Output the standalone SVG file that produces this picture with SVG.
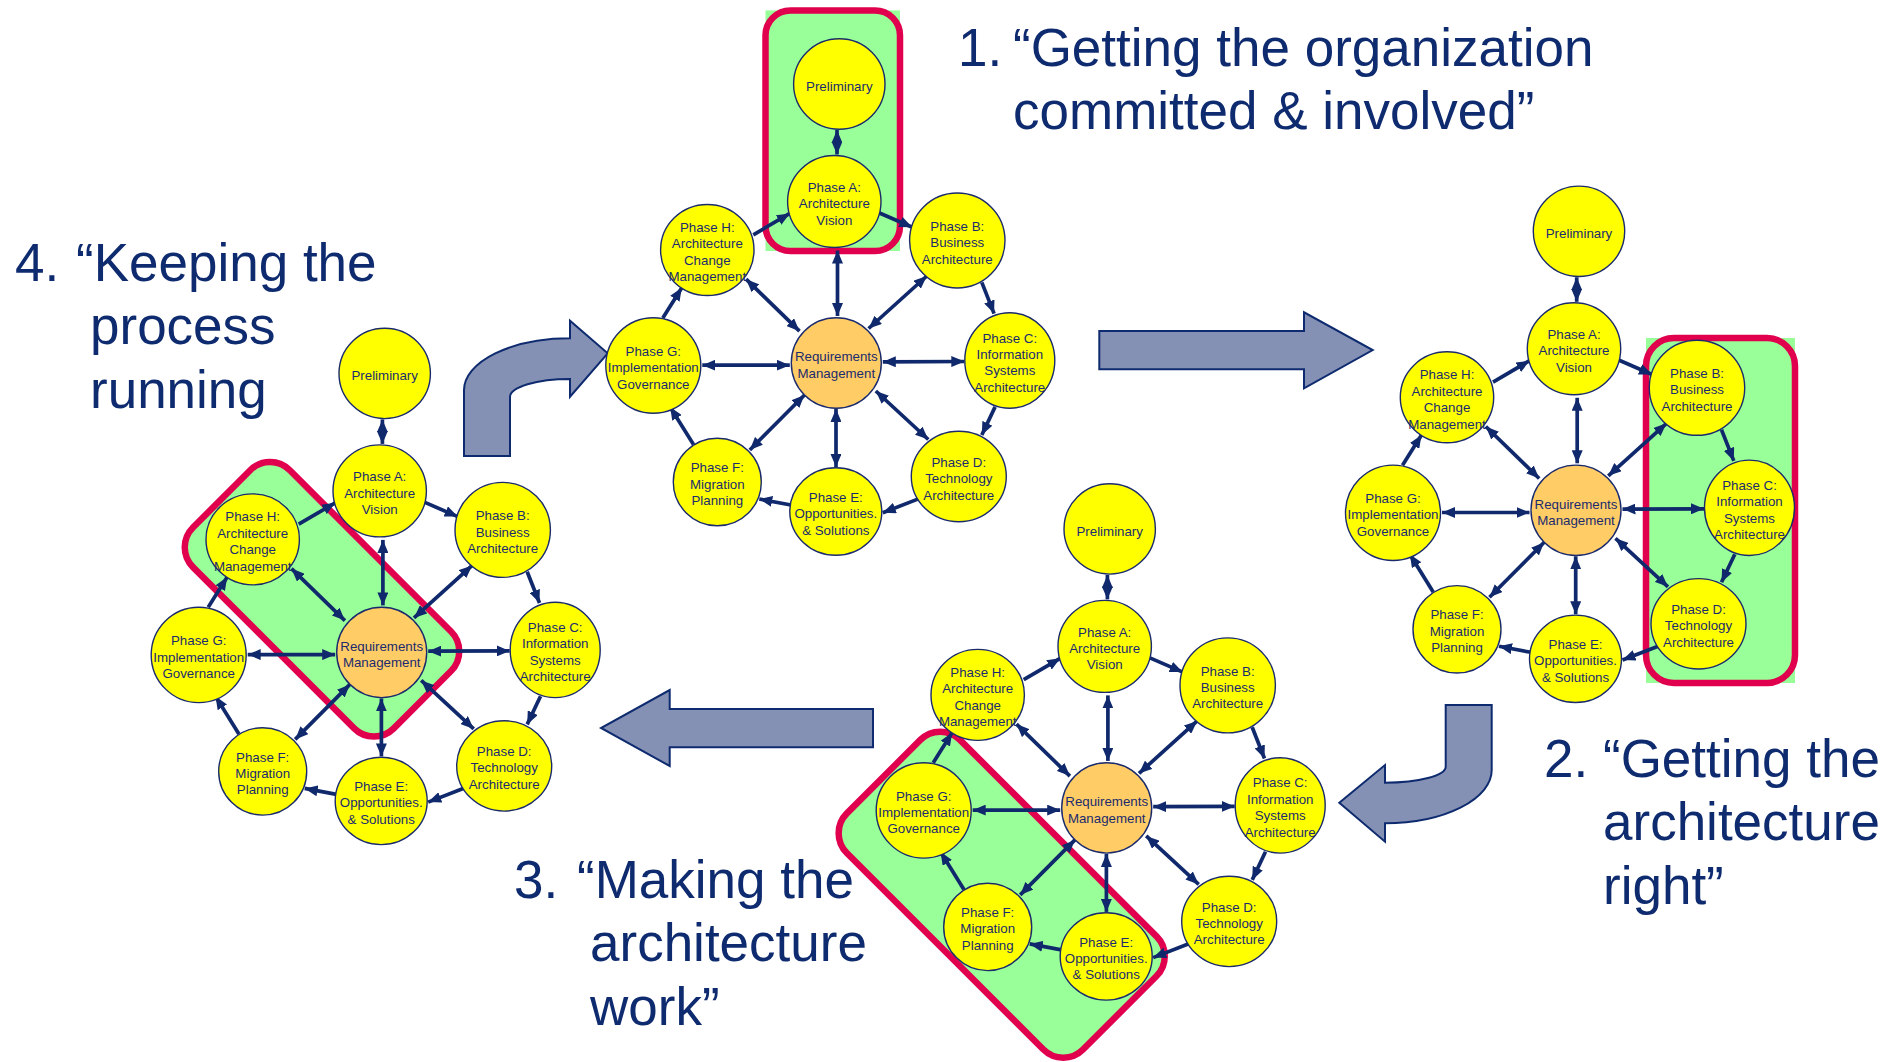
<svg xmlns="http://www.w3.org/2000/svg" width="1901" height="1062" viewBox="0 0 1901 1062">
<defs>
<style>
.n{fill:#FFFF00;stroke:#1A2A6C;stroke-width:1.4}
.rq{fill:#FFCC66;stroke:#1A2A6C;stroke-width:1.4}
.nt{font-family:"Liberation Sans",Arial,sans-serif;font-size:13.3px;fill:#1B2B6D;text-anchor:middle}
.c{stroke:#10296C;stroke-width:3.7;fill:none}
.d{marker-start:url(#ah);marker-end:url(#ah)}
.s{marker-end:url(#ah)}
.tt{font-family:"Liberation Sans",Arial,sans-serif;font-size:53px;fill:#0F2B6F}
.big{fill:#8491B4;stroke:#0F2B6F;stroke-width:2;stroke-linejoin:miter}
.hl{fill:#99FF99}
.hb{fill:none;stroke:#E1004E;stroke-width:6.5}
.hr{fill:#99FF99;stroke:#E1004E;stroke-width:6.5}
</style>
<marker id="ah" viewBox="0 0 13 11" refX="13" refY="5.5" markerWidth="13" markerHeight="11" markerUnits="userSpaceOnUse" orient="auto-start-reverse"><path d="M0,0 L13,5.5 L0,11 z" fill="#10296C"/></marker>
</defs>
<rect width="1901" height="1062" fill="#FFFFFF"/>

<g id="flow-arrows">
<path class="big" d="M464,456 L464,390 A106,52 0 0 1 570,338.3 L570,320.7 L607.7,353.3 L570,396.7 L570,379 A60,18 0 0 0 510,397 L510,456 Z"/>
<path class="big" d="M1099.3,331 L1304,331 L1304,312.3 L1372.7,350 L1304,388.3 L1304,369.3 L1099.3,369.3 Z"/>
<path class="big" d="M1445.7,705 L1491.7,705 L1491.7,770 A106.7,53.3 0 0 1 1385,823.3 L1385,841.7 L1339.3,802.7 L1385,765 L1385,782.7 A60.7,16 0 0 0 1445.7,766.7 Z"/>
<path class="big" d="M873,709 L669.7,709 L669.7,690 L601,728 L669.7,766 L669.7,747.3 L873,747.3 Z"/>
</g>

<g id="titles">
<text class="tt" x="958" y="66">1.</text>
<text class="tt" x="1013" y="66">“Getting the organization</text>
<text class="tt" x="1013" y="129.3">committed &amp; involved”</text>
<text class="tt" x="1544" y="777">2.</text>
<text class="tt" x="1603" y="777">“Getting the</text>
<text class="tt" x="1603" y="840.3">architecture</text>
<text class="tt" x="1603" y="903.6">right”</text>
<text class="tt" x="514" y="898">3.</text>
<text class="tt" x="577" y="898">“Making the</text>
<text class="tt" x="590" y="961.3">architecture</text>
<text class="tt" x="590" y="1024.6">work”</text>
<text class="tt" x="15" y="281">4.</text>
<text class="tt" x="76" y="281">“Keeping the</text>
<text class="tt" x="90" y="344.3">process</text>
<text class="tt" x="90" y="407.6">running</text>
</g>

<!-- Diagram 1 -->
<g id="d1" transform="translate(836.3,363)">
<g id="d1-focus"><rect class="hl" x="-70.8" y="-352.6" width="134.5" height="240.6"/><rect class="hb" x="-70.8" y="-352.6" width="134.5" height="240.6" rx="25"/></g>
<g id="d1-connectors">
<line class="c d" x1="0.7" y1="-233" x2="0.7" y2="-208.5"/>
<line class="c d" x1="1.2" y1="-47" x2="1.2" y2="-112.5"/>
<line class="c d" x1="32.3" y1="-34.5" x2="90.5" y2="-87"/>
<line class="c d" x1="46.5" y1="-1.2" x2="128" y2="-1.5"/>
<line class="c d" x1="39.5" y1="28" x2="92" y2="76.5"/>
<line class="c d" x1="-0.3" y1="46" x2="-0.3" y2="104"/>
<line class="c d" x1="-31.8" y1="32" x2="-86.5" y2="87"/>
<line class="c d" x1="-46.5" y1="2.2" x2="-134" y2="2.2"/>
<line class="c d" x1="-36.8" y1="-31.8" x2="-90.2" y2="-83.8"/>
<line class="c s" x1="-83" y1="-128.2" x2="-46.5" y2="-149.6"/>
<line class="c s" x1="43.2" y1="-150" x2="76" y2="-135.8"/>
<line class="c s" x1="145.5" y1="-80.6" x2="157.8" y2="-49.4"/>
<line class="c s" x1="158.8" y1="43.9" x2="145.5" y2="72"/>
<line class="c s" x1="82.1" y1="135.9" x2="46.5" y2="149.7"/>
<line class="c s" x1="-45.3" y1="142" x2="-77" y2="136"/>
<line class="c s" x1="-142.8" y1="81.6" x2="-166.2" y2="43.9"/>
<line class="c s" x1="-173.5" y1="-45.1" x2="-154.5" y2="-75.3"/>
</g>
<g id="d1-prelim"><ellipse class="n" cx="3" cy="-279" rx="45.7" ry="45.2"/><text class="nt" x="3" y="-272.4">Preliminary</text></g>
<g id="d1-phase-a"><ellipse class="n" cx="-2" cy="-161.5" rx="46.7" ry="46"/><text class="nt"><tspan x="-2" y="-171.3">Phase A:</tspan><tspan x="-2" y="-154.9">Architecture</tspan><tspan x="-2" y="-138.5">Vision</tspan></text></g>
<g id="d1-phase-b"><ellipse class="n" cx="121" cy="-122.5" rx="47.7" ry="47.5"/><text class="nt"><tspan x="121" y="-132.3">Phase B:</tspan><tspan x="121" y="-115.9">Business</tspan><tspan x="121" y="-99.5">Architecture</tspan></text></g>
<g id="d1-phase-c"><ellipse class="n" cx="173.5" cy="-2.5" rx="45" ry="47.7"/><text class="nt"><tspan x="173.5" y="-20.5">Phase C:</tspan><tspan x="173.5" y="-4.1">Information</tspan><tspan x="173.5" y="12.3">Systems</tspan><tspan x="173.5" y="28.7">Architecture</tspan></text></g>
<g id="d1-phase-d"><ellipse class="n" cx="122.5" cy="113.5" rx="47.5" ry="45.2"/><text class="nt"><tspan x="122.5" y="103.7">Phase D:</tspan><tspan x="122.5" y="120.1">Technology</tspan><tspan x="122.5" y="136.5">Architecture</tspan></text></g>
<g id="d1-phase-e"><ellipse class="n" cx="-0.5" cy="148.5" rx="46" ry="43.7"/><text class="nt"><tspan x="-0.5" y="138.7">Phase E:</tspan><tspan x="-0.5" y="155.1">Opportunities.</tspan><tspan x="-0.5" y="171.5">&amp; Solutions</tspan></text></g>
<g id="d1-phase-f"><ellipse class="n" cx="-119" cy="119" rx="44" ry="43.7"/><text class="nt"><tspan x="-119" y="109.2">Phase F:</tspan><tspan x="-119" y="125.6">Migration</tspan><tspan x="-119" y="142">Planning</tspan></text></g>
<g id="d1-phase-g"><ellipse class="n" cx="-183" cy="2.5" rx="47.5" ry="47.7"/><text class="nt"><tspan x="-183" y="-7.3">Phase G:</tspan><tspan x="-183" y="9.1">Implementation</tspan><tspan x="-183" y="25.5">Governance</tspan></text></g>
<g id="d1-phase-h"><ellipse class="n" cx="-129" cy="-113" rx="46.7" ry="45.5"/><text class="nt"><tspan x="-129" y="-131">Phase H:</tspan><tspan x="-129" y="-114.6">Architecture</tspan><tspan x="-129" y="-98.2">Change</tspan><tspan x="-129" y="-81.8">Management</tspan></text></g>
<g id="d1-requirements"><ellipse class="rq" cx="0" cy="0" rx="45" ry="45.2"/><text class="nt"><tspan x="0" y="-1.6">Requirements</tspan><tspan x="0" y="14.8">Management</tspan></text></g>
</g>

<!-- Diagram 2 -->
<g id="d2" transform="translate(1576,510.3)">
<g id="d2-focus"><rect class="hl" x="70" y="-172.3" width="149" height="345"/><rect class="hb" x="70" y="-172.3" width="149" height="345" rx="28"/></g>
<g id="d2-connectors">
<line class="c d" x1="0.7" y1="-233" x2="0.7" y2="-208.5"/>
<line class="c d" x1="1.2" y1="-47" x2="1.2" y2="-112.5"/>
<line class="c d" x1="32.3" y1="-34.5" x2="90.5" y2="-87"/>
<line class="c d" x1="46.5" y1="-1.2" x2="128" y2="-1.5"/>
<line class="c d" x1="39.5" y1="28" x2="92" y2="76.5"/>
<line class="c d" x1="-0.3" y1="46" x2="-0.3" y2="104"/>
<line class="c d" x1="-31.8" y1="32" x2="-86.5" y2="87"/>
<line class="c d" x1="-46.5" y1="2.2" x2="-134" y2="2.2"/>
<line class="c d" x1="-36.8" y1="-31.8" x2="-90.2" y2="-83.8"/>
<line class="c s" x1="-83" y1="-128.2" x2="-46.5" y2="-149.6"/>
<line class="c s" x1="43.2" y1="-150" x2="76" y2="-135.8"/>
<line class="c s" x1="145.5" y1="-80.6" x2="157.8" y2="-49.4"/>
<line class="c s" x1="158.8" y1="43.9" x2="145.5" y2="72"/>
<line class="c s" x1="82.1" y1="135.9" x2="46.5" y2="149.7"/>
<line class="c s" x1="-45.3" y1="142" x2="-77" y2="136"/>
<line class="c s" x1="-142.8" y1="81.6" x2="-166.2" y2="43.9"/>
<line class="c s" x1="-173.5" y1="-45.1" x2="-154.5" y2="-75.3"/>
</g>
<g id="d2-prelim"><ellipse class="n" cx="3" cy="-279" rx="45.7" ry="45.2"/><text class="nt" x="3" y="-272.4">Preliminary</text></g>
<g id="d2-phase-a"><ellipse class="n" cx="-2" cy="-161.5" rx="46.7" ry="46"/><text class="nt"><tspan x="-2" y="-171.3">Phase A:</tspan><tspan x="-2" y="-154.9">Architecture</tspan><tspan x="-2" y="-138.5">Vision</tspan></text></g>
<g id="d2-phase-b"><ellipse class="n" cx="121" cy="-122.5" rx="47.7" ry="47.5"/><text class="nt"><tspan x="121" y="-132.3">Phase B:</tspan><tspan x="121" y="-115.9">Business</tspan><tspan x="121" y="-99.5">Architecture</tspan></text></g>
<g id="d2-phase-c"><ellipse class="n" cx="173.5" cy="-2.5" rx="45" ry="47.7"/><text class="nt"><tspan x="173.5" y="-20.5">Phase C:</tspan><tspan x="173.5" y="-4.1">Information</tspan><tspan x="173.5" y="12.3">Systems</tspan><tspan x="173.5" y="28.7">Architecture</tspan></text></g>
<g id="d2-phase-d"><ellipse class="n" cx="122.5" cy="113.5" rx="47.5" ry="45.2"/><text class="nt"><tspan x="122.5" y="103.7">Phase D:</tspan><tspan x="122.5" y="120.1">Technology</tspan><tspan x="122.5" y="136.5">Architecture</tspan></text></g>
<g id="d2-phase-e"><ellipse class="n" cx="-0.5" cy="148.5" rx="46" ry="43.7"/><text class="nt"><tspan x="-0.5" y="138.7">Phase E:</tspan><tspan x="-0.5" y="155.1">Opportunities.</tspan><tspan x="-0.5" y="171.5">&amp; Solutions</tspan></text></g>
<g id="d2-phase-f"><ellipse class="n" cx="-119" cy="119" rx="44" ry="43.7"/><text class="nt"><tspan x="-119" y="109.2">Phase F:</tspan><tspan x="-119" y="125.6">Migration</tspan><tspan x="-119" y="142">Planning</tspan></text></g>
<g id="d2-phase-g"><ellipse class="n" cx="-183" cy="2.5" rx="47.5" ry="47.7"/><text class="nt"><tspan x="-183" y="-7.3">Phase G:</tspan><tspan x="-183" y="9.1">Implementation</tspan><tspan x="-183" y="25.5">Governance</tspan></text></g>
<g id="d2-phase-h"><ellipse class="n" cx="-129" cy="-113" rx="46.7" ry="45.5"/><text class="nt"><tspan x="-129" y="-131">Phase H:</tspan><tspan x="-129" y="-114.6">Architecture</tspan><tspan x="-129" y="-98.2">Change</tspan><tspan x="-129" y="-81.8">Management</tspan></text></g>
<g id="d2-requirements"><ellipse class="rq" cx="0" cy="0" rx="45" ry="45.2"/><text class="nt"><tspan x="0" y="-1.6">Requirements</tspan><tspan x="0" y="14.8">Management</tspan></text></g>
</g>

<!-- Diagram 3 -->
<g id="d3" transform="translate(1106.7,807.9)">
<g id="d3-focus"><rect class="hr" x="-272" y="6.8" width="334" height="160" rx="28" transform="rotate(45,-105,86.8)"/></g>
<g id="d3-connectors">
<line class="c d" x1="0.7" y1="-233" x2="0.7" y2="-208.5"/>
<line class="c d" x1="1.2" y1="-47" x2="1.2" y2="-112.5"/>
<line class="c d" x1="32.3" y1="-34.5" x2="90.5" y2="-87"/>
<line class="c d" x1="46.5" y1="-1.2" x2="128" y2="-1.5"/>
<line class="c d" x1="39.5" y1="28" x2="92" y2="76.5"/>
<line class="c d" x1="-0.3" y1="46" x2="-0.3" y2="104"/>
<line class="c d" x1="-31.8" y1="32" x2="-86.5" y2="87"/>
<line class="c d" x1="-46.5" y1="2.2" x2="-134" y2="2.2"/>
<line class="c d" x1="-36.8" y1="-31.8" x2="-90.2" y2="-83.8"/>
<line class="c s" x1="-83" y1="-128.2" x2="-46.5" y2="-149.6"/>
<line class="c s" x1="43.2" y1="-150" x2="76" y2="-135.8"/>
<line class="c s" x1="145.5" y1="-80.6" x2="157.8" y2="-49.4"/>
<line class="c s" x1="158.8" y1="43.9" x2="145.5" y2="72"/>
<line class="c s" x1="82.1" y1="135.9" x2="46.5" y2="149.7"/>
<line class="c s" x1="-45.3" y1="142" x2="-77" y2="136"/>
<line class="c s" x1="-142.8" y1="81.6" x2="-166.2" y2="43.9"/>
<line class="c s" x1="-173.5" y1="-45.1" x2="-154.5" y2="-75.3"/>
</g>
<g id="d3-prelim"><ellipse class="n" cx="3" cy="-279" rx="45.7" ry="45.2"/><text class="nt" x="3" y="-272.4">Preliminary</text></g>
<g id="d3-phase-a"><ellipse class="n" cx="-2" cy="-161.5" rx="46.7" ry="46"/><text class="nt"><tspan x="-2" y="-171.3">Phase A:</tspan><tspan x="-2" y="-154.9">Architecture</tspan><tspan x="-2" y="-138.5">Vision</tspan></text></g>
<g id="d3-phase-b"><ellipse class="n" cx="121" cy="-122.5" rx="47.7" ry="47.5"/><text class="nt"><tspan x="121" y="-132.3">Phase B:</tspan><tspan x="121" y="-115.9">Business</tspan><tspan x="121" y="-99.5">Architecture</tspan></text></g>
<g id="d3-phase-c"><ellipse class="n" cx="173.5" cy="-2.5" rx="45" ry="47.7"/><text class="nt"><tspan x="173.5" y="-20.5">Phase C:</tspan><tspan x="173.5" y="-4.1">Information</tspan><tspan x="173.5" y="12.3">Systems</tspan><tspan x="173.5" y="28.7">Architecture</tspan></text></g>
<g id="d3-phase-d"><ellipse class="n" cx="122.5" cy="113.5" rx="47.5" ry="45.2"/><text class="nt"><tspan x="122.5" y="103.7">Phase D:</tspan><tspan x="122.5" y="120.1">Technology</tspan><tspan x="122.5" y="136.5">Architecture</tspan></text></g>
<g id="d3-phase-e"><ellipse class="n" cx="-0.5" cy="148.5" rx="46" ry="43.7"/><text class="nt"><tspan x="-0.5" y="138.7">Phase E:</tspan><tspan x="-0.5" y="155.1">Opportunities.</tspan><tspan x="-0.5" y="171.5">&amp; Solutions</tspan></text></g>
<g id="d3-phase-f"><ellipse class="n" cx="-119" cy="119" rx="44" ry="43.7"/><text class="nt"><tspan x="-119" y="109.2">Phase F:</tspan><tspan x="-119" y="125.6">Migration</tspan><tspan x="-119" y="142">Planning</tspan></text></g>
<g id="d3-phase-g"><ellipse class="n" cx="-183" cy="2.5" rx="47.5" ry="47.7"/><text class="nt"><tspan x="-183" y="-7.3">Phase G:</tspan><tspan x="-183" y="9.1">Implementation</tspan><tspan x="-183" y="25.5">Governance</tspan></text></g>
<g id="d3-phase-h"><ellipse class="n" cx="-129" cy="-113" rx="46.7" ry="45.5"/><text class="nt"><tspan x="-129" y="-131">Phase H:</tspan><tspan x="-129" y="-114.6">Architecture</tspan><tspan x="-129" y="-98.2">Change</tspan><tspan x="-129" y="-81.8">Management</tspan></text></g>
<g id="d3-requirements"><ellipse class="rq" cx="0" cy="0" rx="45" ry="45.2"/><text class="nt"><tspan x="0" y="-1.6">Requirements</tspan><tspan x="0" y="14.8">Management</tspan></text></g>
</g>

<!-- Diagram 4 -->
<g id="d4" transform="translate(381.7,652.4)">
<g id="d4-focus"><rect class="hr" x="-201.7" y="-121.6" width="284" height="137" rx="28" transform="rotate(45,-59.7,-53.1)"/></g>
<g id="d4-connectors">
<line class="c d" x1="0.7" y1="-233" x2="0.7" y2="-208.5"/>
<line class="c d" x1="1.2" y1="-47" x2="1.2" y2="-112.5"/>
<line class="c d" x1="32.3" y1="-34.5" x2="90.5" y2="-87"/>
<line class="c d" x1="46.5" y1="-1.2" x2="128" y2="-1.5"/>
<line class="c d" x1="39.5" y1="28" x2="92" y2="76.5"/>
<line class="c d" x1="-0.3" y1="46" x2="-0.3" y2="104"/>
<line class="c d" x1="-31.8" y1="32" x2="-86.5" y2="87"/>
<line class="c d" x1="-46.5" y1="2.2" x2="-134" y2="2.2"/>
<line class="c d" x1="-36.8" y1="-31.8" x2="-90.2" y2="-83.8"/>
<line class="c s" x1="-83" y1="-128.2" x2="-46.5" y2="-149.6"/>
<line class="c s" x1="43.2" y1="-150" x2="76" y2="-135.8"/>
<line class="c s" x1="145.5" y1="-80.6" x2="157.8" y2="-49.4"/>
<line class="c s" x1="158.8" y1="43.9" x2="145.5" y2="72"/>
<line class="c s" x1="82.1" y1="135.9" x2="46.5" y2="149.7"/>
<line class="c s" x1="-45.3" y1="142" x2="-77" y2="136"/>
<line class="c s" x1="-142.8" y1="81.6" x2="-166.2" y2="43.9"/>
<line class="c s" x1="-173.5" y1="-45.1" x2="-154.5" y2="-75.3"/>
</g>
<g id="d4-prelim"><ellipse class="n" cx="3" cy="-279" rx="45.7" ry="45.2"/><text class="nt" x="3" y="-272.4">Preliminary</text></g>
<g id="d4-phase-a"><ellipse class="n" cx="-2" cy="-161.5" rx="46.7" ry="46"/><text class="nt"><tspan x="-2" y="-171.3">Phase A:</tspan><tspan x="-2" y="-154.9">Architecture</tspan><tspan x="-2" y="-138.5">Vision</tspan></text></g>
<g id="d4-phase-b"><ellipse class="n" cx="121" cy="-122.5" rx="47.7" ry="47.5"/><text class="nt"><tspan x="121" y="-132.3">Phase B:</tspan><tspan x="121" y="-115.9">Business</tspan><tspan x="121" y="-99.5">Architecture</tspan></text></g>
<g id="d4-phase-c"><ellipse class="n" cx="173.5" cy="-2.5" rx="45" ry="47.7"/><text class="nt"><tspan x="173.5" y="-20.5">Phase C:</tspan><tspan x="173.5" y="-4.1">Information</tspan><tspan x="173.5" y="12.3">Systems</tspan><tspan x="173.5" y="28.7">Architecture</tspan></text></g>
<g id="d4-phase-d"><ellipse class="n" cx="122.5" cy="113.5" rx="47.5" ry="45.2"/><text class="nt"><tspan x="122.5" y="103.7">Phase D:</tspan><tspan x="122.5" y="120.1">Technology</tspan><tspan x="122.5" y="136.5">Architecture</tspan></text></g>
<g id="d4-phase-e"><ellipse class="n" cx="-0.5" cy="148.5" rx="46" ry="43.7"/><text class="nt"><tspan x="-0.5" y="138.7">Phase E:</tspan><tspan x="-0.5" y="155.1">Opportunities.</tspan><tspan x="-0.5" y="171.5">&amp; Solutions</tspan></text></g>
<g id="d4-phase-f"><ellipse class="n" cx="-119" cy="119" rx="44" ry="43.7"/><text class="nt"><tspan x="-119" y="109.2">Phase F:</tspan><tspan x="-119" y="125.6">Migration</tspan><tspan x="-119" y="142">Planning</tspan></text></g>
<g id="d4-phase-g"><ellipse class="n" cx="-183" cy="2.5" rx="47.5" ry="47.7"/><text class="nt"><tspan x="-183" y="-7.3">Phase G:</tspan><tspan x="-183" y="9.1">Implementation</tspan><tspan x="-183" y="25.5">Governance</tspan></text></g>
<g id="d4-phase-h"><ellipse class="n" cx="-129" cy="-113" rx="46.7" ry="45.5"/><text class="nt"><tspan x="-129" y="-131">Phase H:</tspan><tspan x="-129" y="-114.6">Architecture</tspan><tspan x="-129" y="-98.2">Change</tspan><tspan x="-129" y="-81.8">Management</tspan></text></g>
<g id="d4-requirements"><ellipse class="rq" cx="0" cy="0" rx="45" ry="45.2"/><text class="nt"><tspan x="0" y="-1.6">Requirements</tspan><tspan x="0" y="14.8">Management</tspan></text></g>
</g>
</svg>
